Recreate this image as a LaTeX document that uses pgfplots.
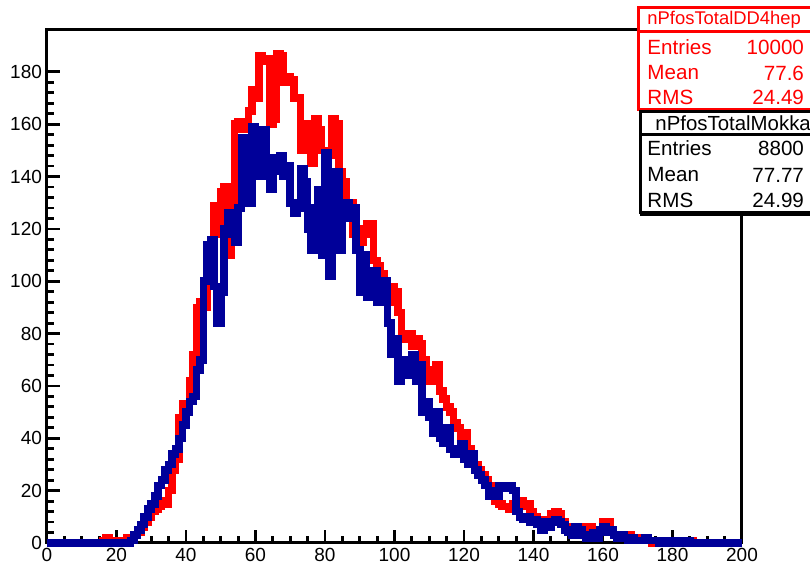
\documentclass[border=0pt]{standalone}
\usepackage{pgfplots}
\usepackage{pgfplotstable}
\pgfplotsset{compat=1.18}
\usepackage{fontspec}
\setmainfont{Liberation Sans}
\definecolor{hred}{RGB}{255,0,0}
\definecolor{hblue}{RGB}{0,0,153}
\pgfplotstableread{
x r b
0 0 0
1 0 0
2 0 0
3 0 0
4 0 0
5 0 0
6 0 0
7 0 0
8 0 0
9 0 0
10 0 0
11 0 0
12 0 0
13 0 0
14 0 0
15 0 0
16 1 0
17 2 0
18 1 0
19 1 0
20 1 0
21 0 0
22 1 0
23 2 0
24 2 1
25 3 3
26 4 5
27 6 7
28 8 10
29 10 13
30 12 15
31 13 18
32 14 22
33 16 24
34 15 28
35 20 30
36 28 34
37 32 36
38 48 40
39 53 45
40 50 50
41 62 54
42 72 56
43 90 66
44 92 70
45 90 100
46 100 114
47 115 116
48 129 98
49 118 84
50 134 96
51 136 120
52 110 126
53 115 118
54 160 115
55 161 128
56 158 155
57 160 140
58 165 130
59 173 159
60 170 140
61 186 145
62 184 158
63 185 140
64 160 135
65 162 147
66 187 142
67 186 148
68 176 140
69 178 144
70 177 130
71 170 126
72 170 128
73 150 143
74 155 138
75 160 120
76 145 112
77 162 128
78 158 135
79 150 110
80 142 149
81 148 102
82 162 138
83 160 142
84 142 112
85 138 128
86 128 130
87 130 124
88 118 128
89 120 112
90 115 96
91 118 110
92 122 94
93 122 100
94 108 104
95 106 92
96 103 98
97 100 100
98 92 84
99 98 72
100 96 78
101 88 62
102 80 70
103 78 66
104 80 64
105 75 72
106 78 62
107 76 68
108 70 50
109 65 54
110 62 48
111 66 42
112 68 50
113 58 40
114 55 38
115 52 44
116 50 36
117 46 34
118 44 36
119 40 38
120 42 32
121 36 30
122 34 34
123 30 28
124 28 26
125 26 24
126 24 22
127 22 18
128 18 20
129 16 18
130 15 22
131 14 22
132 14 21
133 13 22
134 15 20
135 16 12
136 16 10
137 14 9
138 15 10
139 12 8
140 10 9
141 9 7
142 8 5
143 8 8
144 9 6
145 11 8
146 12 9
147 11 8
148 8 7
149 6 5
150 5 4
151 4 3
152 3 6
153 4 5
154 6 3
155 5 2
156 6 3
157 3 4
158 2 2
159 4 5
160 8 6
161 8 4
162 5 5
163 3 3
164 2 2
165 3 3
166 2 2
167 3 1
168 1 2
169 2 1
170 1 1
171 1 1
172 2 2
173 1 1
174 0 1
175 1 1
176 1 0
177 0 1
178 1 1
179 0 0
180 1 1
181 0 1
182 1 0
183 0 0
184 0 1
185 1 0
186 0 0
187 0 0
188 0 0
189 0 0
190 0 0
191 0 0
192 0 0
193 0 0
194 0 0
195 0 0
196 0 0
197 0 0
198 0 0
199 0 0
200 0 0
}\hdata
\begin{document}
\begin{tikzpicture}
\useasboundingbox (0,0) rectangle (405pt,284pt);
\begin{axis}[
  at={(23.5pt,12.5pt)}, anchor=south west,
  scale only axis, width=347.5pt, height=256.5pt,
  xmin=0, xmax=200, ymin=0, ymax=196,
  clip=false,
  xtick={0,20,...,200}, ytick={0,20,...,180},
  minor x tick num=3, minor y tick num=4,
  xtick pos=lower, ytick pos=left,
  tick align=inside,
  major tick length=6.5pt, minor tick length=3.5pt,
  every tick/.style={black, line width=1.4pt},
  axis line style={line width=1.5pt},
  tick label style={font=\fontsize{9.5}{11}\selectfont, /pgf/number format/assume math mode=true, /pgf/number format/1000 sep={}},
  xticklabel style={yshift=1pt},
  yticklabel style={xshift=1pt},
]
\addplot[const plot, hred, line width=3.8pt, line join=miter] table[x=x, y=r] {\hdata};
\addplot[const plot, hblue, line width=3.8pt, line join=miter] table[x=x, y=b] {\hdata};
\end{axis}
% stat boxes
\fill[white] (319pt,229pt) rectangle (412pt,280pt);
\draw[hred, line width=1.5pt] (319pt,229pt) rectangle (412pt,280pt);
\draw[hred, line width=1.5pt] (319pt,268pt) -- (412pt,268pt);
\node[hred, anchor=west, font=\fontsize{9.2}{11}\selectfont] at (320.2pt,274pt) {nPfosTotalDD4hep};
\node[hred, anchor=west, font=\fontsize{10.3}{12}\selectfont] at (320.2pt,260.5pt) {Entries};
\node[hred, anchor=east, font=\fontsize{10.3}{12}\selectfont] at (405.5pt,260.5pt) {10000};
\node[hred, anchor=west, font=\fontsize{10.3}{12}\selectfont] at (320.2pt,247.5pt) {Mean};
\node[hred, anchor=east, font=\fontsize{10.3}{12}\selectfont] at (405.5pt,247.5pt) {77.6};
\node[hred, anchor=west, font=\fontsize{10.3}{12}\selectfont] at (320.2pt,235.5pt) {RMS};
\node[hred, anchor=east, font=\fontsize{10.3}{12}\selectfont] at (405.5pt,235.5pt) {24.49};
\fill[white] (320pt,177.5pt) rectangle (412pt,228.2pt);
\draw[black, line width=1.5pt] (320pt,177.5pt) rectangle (412pt,228.2pt);
\draw[black, line width=1.5pt] (320pt,216.5pt) -- (412pt,216.5pt);
\draw[black, line width=1.2pt] (320pt,176.6pt) -- (412pt,176.6pt);
\node[black, anchor=west, font=\fontsize{10.2}{12}\selectfont] at (324.2pt,222.5pt) {nPfosTotalMokka};
\node[black, anchor=west, font=\fontsize{10.3}{12}\selectfont] at (320.2pt,210pt) {Entries};
\node[black, anchor=east, font=\fontsize{10.3}{12}\selectfont] at (405.5pt,210pt) {8800};
\node[black, anchor=west, font=\fontsize{10.3}{12}\selectfont] at (320.2pt,196.5pt) {Mean};
\node[black, anchor=east, font=\fontsize{10.3}{12}\selectfont] at (405.5pt,196.5pt) {77.77};
\node[black, anchor=west, font=\fontsize{10.3}{12}\selectfont] at (320.2pt,184pt) {RMS};
\node[black, anchor=east, font=\fontsize{10.3}{12}\selectfont] at (405.5pt,184pt) {24.99};
\end{tikzpicture}
\end{document}
